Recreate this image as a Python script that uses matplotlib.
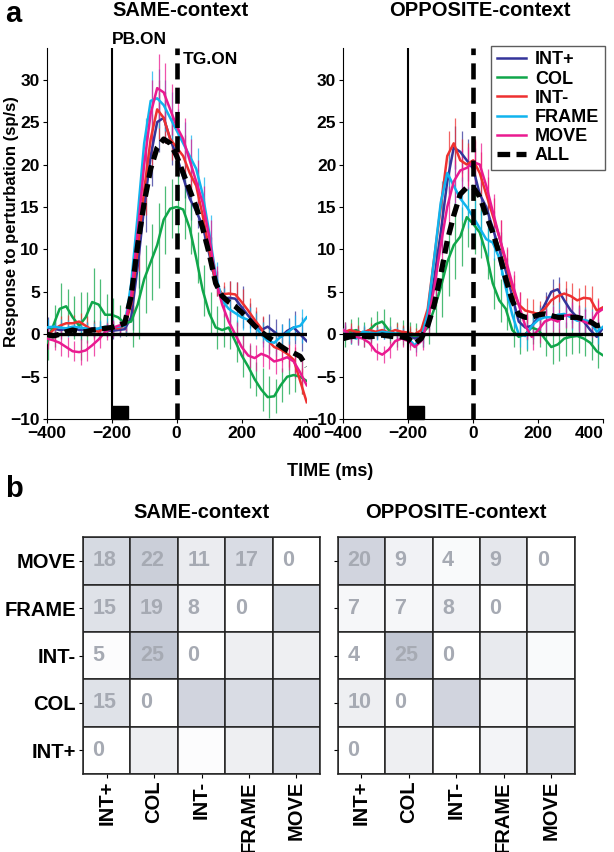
import numpy as np
import matplotlib.pyplot as plt
from matplotlib.patches import Rectangle

plt.rcParams['font.family'] = ['Liberation Sans', 'DejaVu Sans']
plt.rcParams['font.weight'] = 'bold'

# time axis (ms)
t = np.arange(-400, 401, 20)

names = ["INT+", "COL", "INT-", "FRAME", "MOVE"]
colors = ["#34349a", "#10a64a", "#ee3030", "#10b4ee", "#ea1a90"]

# SAME-context responses (sp/s)
same_intp = [0.8, 0.7, 0.5, 0.6, 0.8, 0.5, 0.6, 0.7, 0.6, 0.5, 0.4, 0.5, 0.6, 2.0, 8.0, 15.0, 21.0, 25.0, 25.5, 23.0, 21.0,
             18.5, 16.0, 14.5, 12.8, 9.5, 6.0, 4.2, 4.3, 4.2, 3.2, 2.2, 1.3, 0.5, 0.9, 0.3, -0.3, 0.4, 0.8, 0.0, -0.8]
same_col = [-1.0, 1.0, 3.0, 3.3, 2.0, 1.0, 2.0, 3.8, 3.5, 2.3, 2.3, 2.0, 1.3, 1.5, 3.5, 6.5, 8.5, 10.5, 13.5, 14.8, 15.0,
            14.7, 12.5, 9.0, 5.2, 2.5, 0.8, 0.5, 0.8, -0.8, -2.5, -3.8, -5.3, -6.5, -7.4, -7.3, -6.0, -5.0, -4.8, -5.0, -5.5]
same_intm = [-0.3, 0.5, 1.0, 1.3, 1.3, 1.5, 1.0, 0.5, 0.3, 0.8, 0.8, 0.7, 1.0, 3.5, 10.0, 17.0, 23.0, 26.5, 25.5, 23.0, 22.0,
             21.0, 19.0, 17.5, 14.0, 10.0, 6.0, 4.7, 4.8, 4.7, 3.8, 2.8, 1.7, 0.7, -0.7, -1.5, -1.8, -2.3, -3.0, -5.5, -8.0]
same_frame = [0.8, 0.9, 0.8, 0.7, 0.9, 0.8, 0.7, 0.5, 0.7, 0.9, 0.8, 0.9, 1.0, 6.0, 14.0, 22.5, 27.5, 27.8, 27.0, 25.5, 24.0,
              22.5, 21.0, 19.5, 16.5, 12.0, 7.0, 4.0, 3.0, 2.5, 2.0, 1.7, 1.0, 0.0, -0.8, -1.0, -0.3, 0.2, 0.8, 1.0, 2.0]
same_move = [-0.5, -0.7, -1.0, -1.5, -2.0, -2.1, -1.9, -1.3, -0.6, 0.3, 0.7, 1.0, 1.2, 4.5, 12.0, 20.0, 26.0, 29.0, 28.5, 26.5, 24.5,
             23.0, 20.5, 18.0, 15.5, 11.5, 6.5, 3.5, 1.5, 0.0, -1.5, -2.5, -2.8, -2.3, -2.6, -3.2, -3.0, -2.7, -3.2, -4.5, -6.0]
same_all = [0.0, -0.2, 0.0, 0.3, 0.5, 0.3, 0.3, 0.5, 0.6, 0.7, 0.8, 1.0, 1.3, 4.5, 10.5, 15.5, 19.5, 22.0, 23.0, 22.5, 21.0,
            19.0, 17.0, 15.0, 12.5, 9.5, 6.0, 4.5, 3.8, 3.3, 2.6, 1.8, 1.0, 0.3, -0.3, -0.8, -1.4, -1.9, -2.2, -2.6, -3.8]

# OPPOSITE-context responses (sp/s)
opp_intp = [0.3, 0.0, 0.2, 0.1, 0.0, 0.2, 0.3, 0.1, 0.0, 0.2, 0.0, -0.5, 0.0, 2.0, 6.5, 12.0, 18.0, 22.0, 21.5, 20.5, 19.5,
            16.5, 15.0, 12.5, 10.0, 7.5, 4.5, 1.5, 0.8, 1.0, 2.0, 3.5, 5.0, 5.3, 4.0, 2.8, 2.0, 1.5, 0.5, -0.3, 0.8]
opp_col = [0.0, 0.3, 0.5, 0.0, 0.5, 1.2, 1.5, 0.5, 0.0, 0.2, 0.0, -0.2, 0.0, 0.8, 3.0, 5.5, 8.5, 10.5, 11.5, 13.8, 13.0,
           12.0, 9.5, 6.0, 4.0, 3.0, 0.5, -0.3, 0.0, 0.8, 0.5, -0.5, -1.5, -1.2, -0.5, -0.3, -0.2, -0.5, -1.0, -2.0, -2.5]
opp_intm = [0.2, 0.5, 0.3, 0.2, 0.5, 0.3, 0.5, 0.2, 0.5, 0.3, 0.2, 0.0, 0.5, 3.0, 9.0, 15.0, 21.0, 22.5, 20.5, 20.0, 20.5,
            19.0, 16.5, 14.0, 11.5, 8.5, 5.5, 3.5, 2.8, 2.6, 2.4, 3.0, 4.0, 4.5, 4.8, 4.5, 4.0, 4.3, 4.2, 2.8, 3.2]
opp_frame = [0.5, -0.3, -0.5, 0.3, 0.2, 0.1, 0.3, 0.2, 0.1, 0.0, -0.5, -1.3, -0.5, 2.5, 9.0, 15.5, 19.0, 17.5, 16.0, 15.0, 13.8,
             12.5, 11.2, 10.8, 9.0, 5.5, 2.3, 0.0, -0.2, 1.0, 1.7, 2.0, 2.0, 2.3, 2.4, 2.0, 1.6, 1.7, 1.5, 0.3, 0.9]
opp_move = [0.5, 0.0, -0.3, -0.5, -1.0, -2.0, -2.4, -1.8, -0.8, -0.5, -0.8, -1.5, -0.8, 1.5, 5.5, 10.5, 15.0, 18.0, 19.3, 19.6, 20.3,
            20.0, 17.5, 14.5, 11.5, 8.8, 6.0, 3.5, 1.0, -0.3, 0.5, 1.5, 1.8, 1.5, 2.2, 2.3, 1.8, 1.5, 1.2, 2.5, 3.0]
opp_all = [-0.5, -0.3, -0.2, -0.2, -0.3, -0.2, -0.1, -0.2, -0.3, -0.3, -0.5, -1.1, -0.5, 1.0, 3.5, 7.0, 11.0, 14.0, 16.5, 17.3, 17.3,
           16.2, 14.0, 12.0, 9.5, 6.5, 4.0, 2.3, 2.0, 2.0, 2.3, 2.4, 2.2, 2.0, 2.0, 2.0, 2.0, 1.8, 1.5, 1.0, 1.2]

# error bar half-lengths (sp/s), per series
same_err = {
    "INT+": [1.2, 1.0, 1.0, 0.8, 1.0, 1.2, 0.8, 1.0, 1.0, 0.8, 1.0, 0.8, 0.8, 1.5, 2.5, 3.0, 3.5, 3.5, 3.0, 3.0, 2.5,
             2.5, 2.5, 2.0, 2.0, 2.0, 1.5, 1.5, 2.0, 2.0, 2.5, 1.5, 1.5, 1.5, 1.5, 1.5, 1.5, 1.5, 2.0, 2.0, 2.0],
    "COL": [2.0, 2.5, 3.0, 2.0, 2.5, 4.0, 3.0, 4.0, 3.0, 2.5, 2.0, 1.5, 1.5, 3.0, 4.0, 4.0, 4.5, 5.0, 4.0, 3.5, 4.0,
            3.5, 3.0, 3.0, 3.0, 2.5, 2.5, 2.0, 2.5, 2.5, 2.5, 2.5, 2.0, 2.5, 2.5, 2.0, 2.0, 2.0, 2.0, 2.0, 2.0],
    "INT-": [1.0, 1.0, 1.2, 1.0, 1.0, 1.0, 1.2, 1.0, 0.8, 0.8, 0.8, 0.8, 0.8, 1.5, 2.5, 3.0, 3.0, 3.5, 3.0, 2.5, 2.5,
             2.5, 2.0, 2.0, 2.0, 1.5, 1.5, 1.5, 1.5, 1.5, 1.5, 1.5, 1.5, 1.5, 1.5, 1.5, 1.5, 1.5, 1.5, 1.5, 1.5],
    "FRAME": [1.0, 1.0, 1.0, 1.0, 0.8, 1.0, 0.8, 0.8, 1.0, 1.0, 1.0, 0.8, 0.8, 1.5, 2.5, 3.0, 3.5, 3.5, 3.0, 3.0, 2.5,
              2.5, 2.5, 2.5, 2.0, 2.0, 1.5, 1.5, 1.5, 1.5, 1.5, 1.5, 1.5, 1.5, 1.5, 1.5, 1.5, 1.5, 1.5, 2.0, 2.5],
    "MOVE": [1.2, 1.2, 1.5, 1.2, 1.2, 1.5, 1.2, 1.2, 1.0, 1.0, 1.0, 0.8, 0.8, 1.5, 2.5, 3.5, 4.0, 4.0, 3.5, 3.0, 3.0,
             2.5, 2.5, 2.5, 2.0, 2.0, 1.5, 1.5, 1.5, 1.5, 1.5, 1.5, 1.5, 1.5, 1.5, 1.5, 1.5, 1.5, 2.0, 2.0, 2.5],
}
opp_err = {
    "INT+": [0.8, 0.8, 0.8, 0.8, 0.8, 0.8, 0.8, 0.8, 0.8, 0.8, 0.8, 0.8, 1.0, 1.5, 2.0, 2.5, 2.5, 2.5, 2.5, 2.5, 2.5,
             2.5, 2.0, 2.0, 2.0, 1.5, 1.5, 1.5, 1.5, 1.5, 1.5, 1.5, 1.5, 1.5, 1.5, 1.5, 1.5, 1.5, 1.5, 1.5, 1.5],
    "COL": [1.5, 1.5, 1.5, 1.5, 1.5, 1.5, 1.5, 1.5, 1.5, 1.5, 1.5, 1.5, 1.5, 2.0, 3.0, 3.5, 4.0, 4.0, 3.5, 3.5, 3.5,
            3.0, 3.0, 3.0, 2.5, 2.5, 2.0, 2.0, 2.0, 2.0, 2.0, 2.0, 2.0, 2.0, 2.0, 2.0, 2.0, 2.0, 2.0, 2.0, 2.0],
    "INT-": [0.8, 0.8, 0.8, 0.8, 0.8, 0.8, 0.8, 0.8, 0.8, 0.8, 0.8, 0.8, 1.0, 1.5, 2.0, 2.5, 3.0, 3.0, 2.5, 2.5, 2.5,
             2.5, 2.0, 2.0, 2.0, 1.5, 1.5, 1.5, 1.5, 1.5, 1.5, 1.5, 1.5, 1.5, 1.5, 1.5, 1.5, 1.5, 1.5, 1.5, 1.5],
    "FRAME": [0.8, 0.8, 0.8, 0.8, 0.8, 0.8, 0.8, 0.8, 0.8, 0.8, 0.8, 0.8, 1.0, 1.5, 2.0, 2.5, 2.5, 2.5, 2.5, 2.5, 2.0,
              2.0, 2.0, 2.0, 2.0, 1.5, 1.5, 1.5, 1.5, 1.5, 1.5, 1.5, 1.5, 1.5, 1.5, 1.5, 1.5, 1.5, 1.5, 1.5, 1.5],
    "MOVE": [1.0, 1.0, 1.0, 1.0, 1.0, 1.0, 1.0, 1.0, 1.0, 1.0, 1.0, 1.0, 1.0, 1.5, 2.0, 2.5, 2.5, 2.5, 2.5, 2.5, 2.5,
             2.5, 2.0, 2.0, 2.0, 1.5, 1.5, 1.5, 1.5, 1.5, 1.5, 1.5, 1.5, 1.5, 1.5, 1.5, 1.5, 1.5, 1.5, 1.5, 1.5],
}

# matrices: rows top->bottom, cols left->right
row_labels = ["MOVE", "FRAME", "INT-", "COL", "INT+"]
col_labels = ["INT+", "COL", "INT-", "FRAME", "MOVE"]
same_counts = [[18, 22, 11, 17, 0],
               [15, 19, 8, 0, None],
               [5, 25, 0, None, None],
               [15, 0, None, None, None],
               [0, None, None, None, None]]
opp_counts = [[20, 9, 4, 9, 0],
              [7, 7, 8, 0, None],
              [4, 25, 0, None, None],
              [10, 0, None, None, None],
              [0, None, None, None, None]]
# shading level of each cell (upper triangle has shading only)
same_shade = [[18, 22, 11, 17, 0],
              [15, 19, 8, 0, 18],
              [5, 25, 0, 10, 10],
              [15, 0, 20, 17, 17],
              [0, 10, 5, 10, 16]]
opp_shade = [[20, 9, 6, 13, 0],
             [7, 7, 9, 0, 12],
             [4, 25, 0, 12, 6],
             [10, 0, 20, 7, 9],
             [0, 10, 3, 8, 16]]

fig = plt.figure(figsize=(6.14, 8.52), dpi=100)


def line_panel(rect, series, alls, errs):
    ax = fig.add_axes(rect)
    for name, col, y in zip(names, colors, series):
        y = np.array(y)
        e = np.array(errs[name])
        ax.vlines(t + 5, y - e, y + e, color=col, lw=0.9, alpha=0.75, zorder=2)
        ax.plot(t, y, color=col, lw=1.8, zorder=3, label=name)
    ax.plot(t, alls, color="black", lw=3.8, ls=(0, (2.4, 1.2)), zorder=4, label="ALL")
    ax.axhline(0, color="black", lw=2.4, zorder=5)
    ax.axvline(-200, color="black", lw=1.5, zorder=5)
    ax.axvline(0, color="black", lw=3.3, ls=(0, (3.5, 1.8)), zorder=5)
    ax.add_patch(Rectangle((-200, -10), 50, 1.6, color="black", zorder=6, clip_on=False))
    ax.set_xlim(-400, 400)
    ax.set_ylim(-10, 33.7)
    ax.set_xticks([-400, -200, 0, 200, 400])
    ax.set_yticks(range(-10, 31, 5))
    ax.spines["top"].set_visible(False)
    ax.spines["right"].set_visible(False)
    ax.tick_params(labelsize=12.5, length=3, width=0.8, pad=2)
    for lab in ax.get_xticklabels() + ax.get_yticklabels():
        lab.set_fontweight("bold")
    return ax


ax1 = line_panel([0.076, 0.508, 0.4235, 0.4354],
                 [same_intp, same_col, same_intm, same_frame, same_move], same_all, same_err)
ax1.text(-200, 33.9, "PB.ON", fontsize=12.5, fontweight="bold", ha="left", va="bottom", clip_on=False)
ax1.text(18, 31.5, "TG.ON", fontsize=12.5, fontweight="bold", ha="left", va="bottom", clip_on=False)

ax2 = line_panel([0.559, 0.508, 0.4235, 0.4354],
                 [opp_intp, opp_col, opp_intm, opp_frame, opp_move], opp_all, opp_err)
ax2.get_xticklabels()[-1].set_horizontalalignment("right")
leg = ax2.legend(loc="upper right", bbox_to_anchor=(1.005, 1.006), fontsize=13, frameon=True, fancybox=False,
                 handlelength=1.6, labelspacing=0.12, borderpad=0.3, handletextpad=0.5, borderaxespad=0.0)
leg.get_frame().set_edgecolor("#333333")
leg.get_frame().set_linewidth(1.0)
for txt in leg.get_texts():
    txt.set_fontweight("bold")

fig.text(180 / 614, 1 - 11 / 852, "SAME-context", fontsize=14.5, fontweight="bold", ha="center", va="center")
fig.text(480 / 614, 1 - 11 / 852, "OPPOSITE-context", fontsize=14.5, fontweight="bold", ha="center", va="center")
fig.text(12 / 614, 1 - 222 / 852, "Response to perturbation (sp/s)", fontsize=12, fontweight="bold",
         rotation=90, ha="center", va="center")
fig.text(330 / 614, 1 - 472 / 852, "TIME (ms)", fontsize=13, fontweight="bold", ha="center", va="center")
fig.text(0.008, 1 - 14 / 852, "a", fontsize=21, fontweight="bold", ha="left", va="center")
fig.text(0.008, 1 - 489 / 852, "b", fontsize=21, fontweight="bold", ha="left", va="center")


def matrix_panel(rect, counts, shade, title, show_rows):
    ax = fig.add_axes(rect)
    shade = np.array(shade, dtype=float)
    lo = np.array([1.0, 1.0, 1.0])
    hi = np.array([0.75, 0.77, 0.82])
    for i in range(5):
        for j in range(5):
            f = max(0.0, shade[i, j] - 4) / 22.0
            c = lo + (hi - lo) * f
            ax.add_patch(Rectangle((j, 4 - i), 1, 1, facecolor=c, edgecolor="#222222", lw=1.1))
            v = counts[i][j]
            if v is not None:
                ax.text(j + 0.2, 4 - i + 0.5, str(v), fontsize=15.5, fontweight="bold",
                        color="#a6aab3", ha="left", va="center")
    ax.set_xlim(0, 5)
    ax.set_ylim(0, 5)
    ax.set_xticks(np.arange(5) + 0.5)
    ax.set_xticklabels(col_labels, rotation=90, fontsize=14.5, fontweight="bold")
    ax.set_yticks(np.arange(5) + 0.5)
    if show_rows:
        ax.set_yticklabels(row_labels[::-1], fontsize=14.5, fontweight="bold")
    else:
        ax.set_yticklabels([])
    ax.tick_params(length=3, width=0.8, pad=2)
    for s in ax.spines.values():
        s.set_linewidth(1.1)
        s.set_color("#222222")
    ax.set_title(title, fontsize=14.5, fontweight="bold", pad=14)


matrix_panel([0.1352, 0.0915, 0.386, 0.278], same_counts, same_shade, "SAME-context", True)
matrix_panel([0.55, 0.0915, 0.386, 0.278], opp_counts, opp_shade, "OPPOSITE-context", False)

fig.savefig("out.png", dpi=100)
